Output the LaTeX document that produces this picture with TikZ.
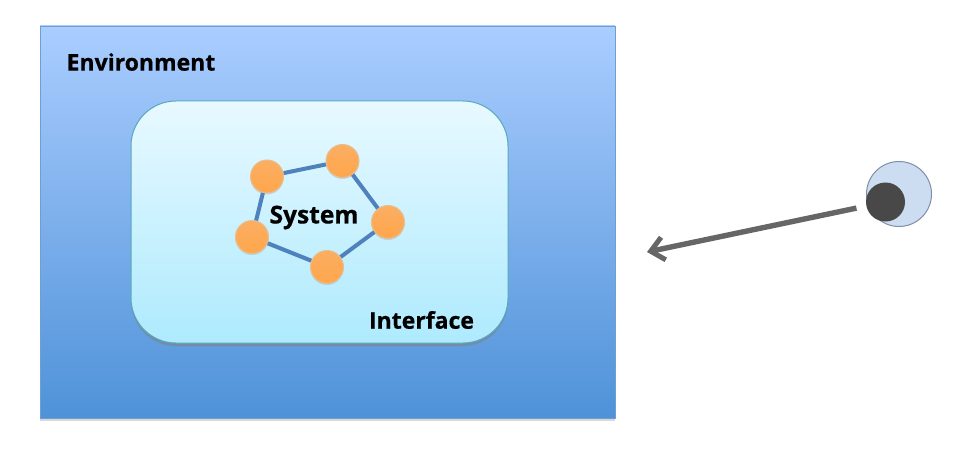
\documentclass[tikz,border=0pt]{standalone}
\usepackage{fontspec}
\setmainfont{Open Sans}[BoldFeatures={FakeBold=0.6}]
\usetikzlibrary{arrows.meta,shadows}
\definecolor{envtop}{HTML}{AACDFF}
\definecolor{envbot}{HTML}{4F92D8}
\definecolor{envline}{HTML}{6F9FD0}
\definecolor{iftop}{HTML}{E8F9FF}
\definecolor{ifbot}{HTML}{AEEAFE}
\definecolor{ifline}{HTML}{58A8BC}
\definecolor{orangetop}{HTML}{FBAE62}
\definecolor{orangebot}{HTML}{FFA64C}
\definecolor{orangeline}{HTML}{E9BE90}
\definecolor{linkc}{HTML}{4F81BD}
\definecolor{eyeball}{HTML}{CCDDF2}
\definecolor{eyeline}{HTML}{7F8FA6}
\definecolor{pupil}{HTML}{484848}
\definecolor{arrowc}{HTML}{666666}
\tikzset{
  envbox/.style={draw=envline,line width=0.7pt,top color=envtop,bottom color=envbot,
    minimum width=575pt,minimum height=392pt,inner sep=0pt,
    drop shadow={shadow xshift=0pt,shadow yshift=-2.5pt,opacity=.3}},
  ifbox/.style={draw=ifline,line width=1pt,top color=iftop,bottom color=ifbot,
    rounded corners=45pt,minimum width=377pt,minimum height=242pt,inner sep=0pt,
    drop shadow={shadow xshift=0pt,shadow yshift=-3pt,opacity=.55}},
  ball/.style={circle,draw=orangeline,line width=1pt,top color=orangetop,bottom color=orangebot,
    minimum size=33pt,inner sep=0pt,
    drop shadow={shadow xshift=0pt,shadow yshift=-1.5pt,opacity=.25}},
  link/.style={draw=linkc,line width=4pt},
  label/.style={font=\fontsize{23}{26}\selectfont\bfseries,text=black,inner sep=0pt},
  biglabel/.style={label,font=\fontsize{24.5}{28}\selectfont\bfseries},
  eyeout/.style={circle,draw=eyeline,line width=1pt,fill=eyeball,minimum size=65pt,inner sep=0pt},
  eyein/.style={circle,fill=pupil,minimum size=39pt,inner sep=0pt},
  sight/.style={draw=arrowc,line width=5.4pt,-{Straight Barb[length=13pt,width=23pt,line width=5pt]}}
}
\begin{document}
\begin{tikzpicture}[x=1pt,y=-1pt]
\useasboundingbox (0,0) rectangle (960,457);
\fill[white] (0,0) rectangle (960,457);
\node[envbox] (env) at (327.5,222) {};
\node[ifbox] (iface) at (319.5,222) {};
\node[label] (envt) at (141,62) {Environment};
\node[label] (ift) at (421.5,320) {Interface};
\node[biglabel] (syst) at (314,217.5) {System};
\node[ball] (a) at (267,176.5) {};
\node[ball] (b) at (342.5,161) {};
\node[ball] (c) at (388,222) {};
\node[ball] (d) at (327,267) {};
\node[ball] (e) at (252,237) {};
\draw[link] (a) -- (b);
\draw[link] (b) -- (c);
\draw[link] (c) -- (d);
\draw[link] (d) -- (e);
\draw[link] (e) -- (a);
\node[eyeout] (eye) at (899,194) {};
\node[eyein] (pupil) at (885.5,202) {};
\coordinate (tip) at (647,252);
\draw[sight,shorten <=10pt] (pupil) -- (tip);
\end{tikzpicture}
\end{document}
